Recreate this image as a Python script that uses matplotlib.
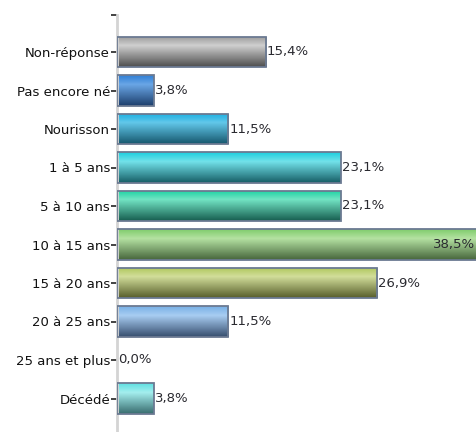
import numpy as np
import matplotlib
matplotlib.use("Agg")
import matplotlib.pyplot as plt
from matplotlib.colors import LinearSegmentedColormap

categories = ["Non-réponse", "Pas encore né", "Nourisson", "1 à 5 ans", "5 à 10 ans",
              "10 à 15 ans", "15 à 20 ans", "20 à 25 ans", "25 ans et plus", "Décédé"]
values = [15.4, 3.8, 11.5, 23.1, 23.1, 38.5, 26.9, 11.5, 0.0, 3.8]
labels = ["15,4%", "3,8%", "11,5%", "23,1%", "23,1%", "38,5%", "26,9%", "11,5%", "0,0%", "3,8%"]
# gradient colours: (top, highlight, bottom)
grads = [
    ("#9a9a9a", "#cfcfcf", "#4e4e4e"),
    ("#2f7fd6", "#6aa6e6", "#1d3f6c"),
    ("#18aee2", "#62c8ea", "#17586e"),
    ("#1ccfe0", "#72e2ea", "#175e66"),
    ("#1ad3a2", "#72e4c4", "#175e50"),
    ("#7fcc6c", "#b4e2a2", "#47663c"),
    ("#aec65a", "#d2de9a", "#585e2c"),
    ("#78b0e6", "#a8cdf2", "#374e6e"),
    ("#888888", "#bbbbbb", "#444444"),
    ("#5ee0e2", "#a4eeee", "#386c6e"),
]

W, H = 476, 432
fig = plt.figure(figsize=(W / 100, H / 100), dpi=100)
ax_left, ax_top = 117, 15
ax = fig.add_axes([ax_left / W, 0, (W - ax_left) / W, (H - ax_top) / H])

px_per_unit = 9.68
xmax = (W - ax_left) / px_per_unit
ax.set_xlim(0, xmax)
top_lim = -(52 - ax_top) / 38.5
bot_lim = (H - 52) / 38.5
ax.set_ylim(bot_lim, top_lim)

ypos = np.arange(len(categories))
bars = ax.barh(ypos, values, height=0.78, color="none", edgecolor="#6b7a92",
               linewidth=1.3, zorder=3)

for b, (c0, c1, c2), v in zip(bars, grads, values):
    if v <= 0:
        b.set_visible(False)
        continue
    cmap = LinearSegmentedColormap.from_list("g", [(0, c0), (0.3, c1), (1, c2)])
    grad = np.linspace(0, 1, 64).reshape(-1, 1)
    x0, y0 = b.get_x(), b.get_y()
    w, h = b.get_width(), b.get_height()
    im = ax.imshow(grad, cmap=cmap, aspect="auto", extent=(x0, x0 + w, y0 + h, y0),
                   origin="upper", zorder=2, interpolation="bilinear")
    im.set_clip_path(b)

for i, (v, lab) in enumerate(zip(values, labels)):
    if v > xmax:
        ax.text(xmax - 0.05, i, lab, ha="right", va="center", fontsize=9.5,
                color="#2a2a30", family="DejaVu Sans", zorder=4)
    else:
        ax.text(v + 0.1, i, lab, ha="left", va="center", fontsize=9.5,
                color="#2a2a30", family="DejaVu Sans", zorder=4)

ax.set_yticks(list(ypos) + [top_lim])
ax.set_yticklabels(categories + [""], fontsize=9.5, color="#111111")
ax.tick_params(axis="y", length=4, width=1.2, color="#222222", pad=1)
ax.set_xticks([])
for s in ["top", "right", "bottom"]:
    ax.spines[s].set_visible(False)
ax.spines["left"].set_color("#d4d4d4")
ax.spines["left"].set_linewidth(2)
ax.set_facecolor("white")
ax.set_xlim(0, xmax)
ax.set_ylim(bot_lim, top_lim)

fig.savefig("out.png", dpi=100)
